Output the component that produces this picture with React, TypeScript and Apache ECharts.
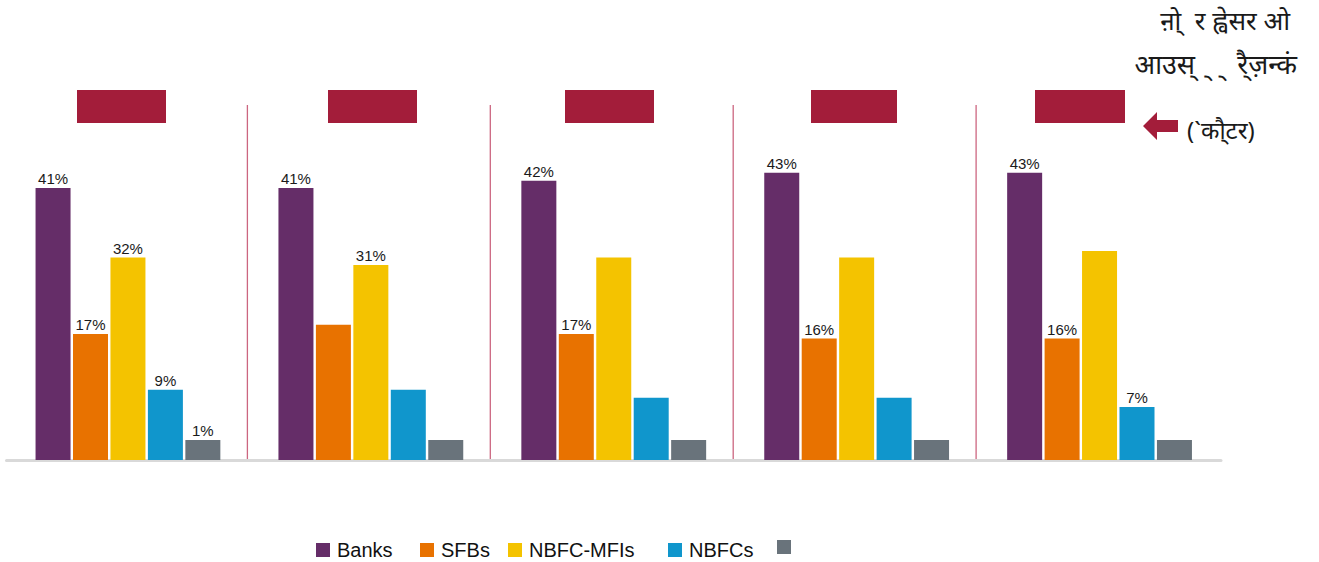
import React, { useEffect, useRef } from "react";
import * as echarts from "echarts";

const categories = ["G1", "G2", "G3", "G4", "G5"];
const seriesNames = ["Banks", "SFBs", "NBFC-MFIs", "NBFCs", "Others"];
const colors = ["#652d68", "#e87200", "#f4c300", "#1096cc", "#69737b"];

// bar heights (percent scale)
const banks = [41, 41, 42.1, 43.3, 43.3];
const sfbs = [19, 20.4, 19, 18.3, 18.3];
const nbfcMfis = [30.5, 29.4, 30.5, 30.5, 31.5];
const nbfcs = [10.6, 10.6, 9.4, 9.4, 8];
const others = [3, 3, 3, 3, 3];

// printed labels (only some bars carry one)
const banksLabels = ["41%", "41%", "42%", "43%", "43%"];
const sfbsLabels = ["17%", "", "17%", "16%", "16%"];
const nbfcMfisLabels = ["32%", "31%", "", "", ""];
const nbfcsLabels = ["9%", "", "", "", "7%"];
const othersLabels = ["1%", "", "", "", ""];

const titleLine1 = "ऩो्  र ह्वेसर ओ";
const titleLine2 = "आउस् \u00A0् \u00A0्  रै्ज़न्कं";
const arrowLabel = "(`कौ्टर)";

const FONT = "'Liberation Sans', Arial, sans-serif";
const RED = "#a31d3a";

export default function App() {
  const ref = useRef<HTMLDivElement>(null);
  useEffect(() => {
    const chart = echarts.init(ref.current!, undefined, { renderer: "svg" });
    const values = [banks, sfbs, nbfcMfis, nbfcs, others];
    const labels = [banksLabels, sfbsLabels, nbfcMfisLabels, nbfcsLabels, othersLabels];
    const legendLefts = [316, 420, 508, 668, 777];

    const series = seriesNames.map((name, si) => ({
      name,
      type: "bar",
      barWidth: 35,
      barGap: "7%",
      itemStyle: { color: colors[si] },
      data: values[si].map((v) => v),
      label: {
        show: true,
        position: "top",
        distance: 2,
        fontFamily: FONT,
        fontSize: 15,
        color: "#1a1a1a",
        formatter: (p: any) => labels[si][p.dataIndex],
      },
    }));

    const legends = seriesNames.map((name, si) => ({
      data: [name],
      left: legendLefts[si],
      top: 540,
      padding: 0,
      itemWidth: 14,
      itemHeight: 14,
      icon: "rect",
      itemGap: 5,
      selectedMode: false,
      formatter: (n: string) => (n === "Others" ? "" : n),
      textStyle: { fontFamily: FONT, fontSize: 20, color: "#111", padding: [0, 0, 0, 2] },
    }));

    chart.setOption({
      animation: false,
      grid: { left: 6.5, right: 98, top: 105, bottom: 102 },
      xAxis: {
        type: "category",
        data: categories,
        axisLine: { show: true, lineStyle: { color: "#d9d9d9", width: 3 } },
        axisTick: { show: false },
        axisLabel: { show: false },
        splitLine: { show: false },
      },
      yAxis: { type: "value", min: 0, max: 53.5, show: false, splitLine: { show: false } },
      legend: legends,
      series,
    });

    const centers = categories.map((_, i) => chart.convertToPixel({ xAxisIndex: 0 }, i) as number);
    const seps: any[] = [];
    for (let i = 0; i < centers.length - 1; i++) {
      const x = (centers[i] + centers[i + 1]) / 2 - 2;
      seps.push({
        type: "line",
        shape: { x1: x, y1: 105, x2: x, y2: 460 },
        style: { stroke: "#cc6680", lineWidth: 1.3 },
        silent: true,
      });
    }
    const rectXs = [77, 328, 565, 811, 1035];
    const rectWs = [89, 89, 89, 86, 90];
    const rects = rectXs.map((x, i) => ({
      type: "rect",
      shape: { x, y: 90, width: rectWs[i], height: 33 },
      style: { fill: RED },
      silent: true,
    }));

    chart.setOption({
      graphic: [
        ...seps,
        ...rects,
        {
          type: "polygon",
          shape: {
            points: [
              [1143, 126],
              [1157, 112],
              [1157, 120],
              [1178, 120],
              [1178, 132],
              [1157, 132],
              [1157, 140],
            ],
          },
          style: { fill: RED },
        },
        {
          type: "text",
          right: 29,
          top: 7,
          style: { text: titleLine1, fontSize: 26, fill: "#1a1a1a", fontFamily: "'Noto Sans', sans-serif" },
        },
        {
          type: "text",
          right: 22,
          top: 50,
          style: { text: titleLine2, fontSize: 27, fill: "#1a1a1a", fontFamily: "'Noto Sans', sans-serif" },
        },
        {
          type: "text",
          left: 1187,
          top: 117,
          style: { text: arrowLabel, fontSize: 24, fill: "#1a1a1a", fontFamily: "'Noto Sans', sans-serif" },
        },
      ],
    });

    return () => chart.dispose();
  }, []);
  return (
    <div
      ref={ref}
      style={{ position: "fixed", left: 0, top: 0, width: 1319, height: 562, background: "#fff" }}
    />
  );
}
